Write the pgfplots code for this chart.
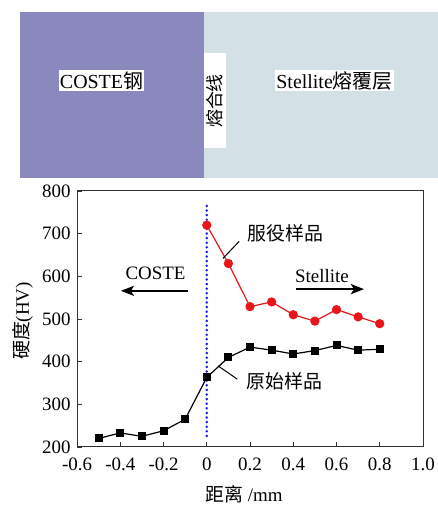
\documentclass[border=0pt]{standalone}
\usepackage{fontspec}
\setmainfont{Liberation Serif}
\newfontfamily\cjk{Noto Sans CJK SC}
\usepackage{pgfplots}
\pgfplotsset{compat=1.18}
\usetikzlibrary{arrows.meta}
\definecolor{steelc}{RGB}{139,136,192}
\definecolor{stellc}{RGB}{211,224,229}
\definecolor{redline}{RGB}{232,22,27}
\definecolor{dotblue}{RGB}{30,30,225}
\definecolor{axgray}{RGB}{50,50,50}
\begin{document}
\fontsize{19}{22}\selectfont
\begin{tikzpicture}[x=1bp,y=1bp]
\useasboundingbox (0,0) rectangle (438,506);
% schematic
\fill[steelc] (20,328) rectangle (204,494);
\fill[stellc] (204,328) rectangle (438,494);
\node[fill=white, inner sep=1bp, font=\fontsize{20}{22}\selectfont] at (101.5,425.5) {COSTE{\cjk 钢}};
\node[fill=white, inner sep=1bp, font=\fontsize{20}{22}\selectfont] at (334.5,425.5) {Stellite{\cjk 熔覆层}};
\node[fill=white, inner sep=0pt, rotate=90, minimum width=95bp, minimum height=22bp, font=\cjk\fontsize{18}{20}\selectfont] at (215,405) {熔合线};
% axis labels
\node[rotate=90] at (23,185) {{\cjk 硬度}(HV)};
\node at (244,12) {{\cjk 距离} /mm};
\begin{axis}[
  at={(77bp,59bp)}, anchor=south west,
  scale only axis, width=346bp, height=256bp,
  xmin=-0.6, xmax=1.0, ymin=200, ymax=800,
  xtick={-0.6,-0.4,-0.2,0,0.2,0.4,0.6,0.8,1.0},
  xticklabels={-0.6,-0.4,-0.2,0,0.2,0.4,0.6,0.8,1.0},
  ytick={200,300,400,500,600,700,800},
  tick align=inside, tick pos=left,
  major tick length=5bp,
  axis line style={axgray, line width=1bp},
  tick style={axgray, line width=0.8bp},
  /pgf/number format/assume math mode=true,
  ticklabel style={font=\fontsize{19}{22}\selectfont},
  xticklabel style={yshift=-4bp},
  clip=false,
]
\addplot[black, line width=1.2bp, mark=square*, mark size=3.4bp, mark options={solid}] coordinates {
(-0.5,220) (-0.4,233) (-0.3,225) (-0.2,238) (-0.1,265) (0,363) (0.1,410) (0.2,434) (0.3,427) (0.4,418) (0.5,426) (0.6,438) (0.7,427) (0.8,429)};
\addplot[redline, line width=1.2bp, mark=*, mark size=4bp, mark options={solid}] coordinates {
(0,720) (0.1,630) (0.2,529) (0.3,540) (0.4,510) (0.5,495) (0.6,522) (0.7,505) (0.8,489)};
\addplot[dotblue, line width=2.8bp, dash pattern=on 0pt off 4.6bp, line cap=round] coordinates {(0,226) (0,775)};
\node[anchor=west, font=\cjk] at (axis cs:0.16,701) {服役样品};
\draw[black, line width=1bp] (axis cs:0.075,642) -- (axis cs:0.150,682);
\node[anchor=west, font=\cjk] at (axis cs:0.155,353) {原始样品};
\draw[black, line width=1bp] (axis cs:0.053,390) -- (axis cs:0.141,359);
\node at (axis cs:-0.237,608) {COSTE};
\draw[line width=2.2bp, -{Stealth[length=13bp,width=10bp,inset=3bp]}] (axis cs:-0.087,566) -- (axis cs:-0.397,566);
\node at (axis cs:0.533,601) {Stellite};
\draw[line width=2.2bp, -{Stealth[length=13bp,width=10bp,inset=3bp]}] (axis cs:0.413,570) -- (axis cs:0.727,570);
\end{axis}
\end{tikzpicture}
\end{document}
